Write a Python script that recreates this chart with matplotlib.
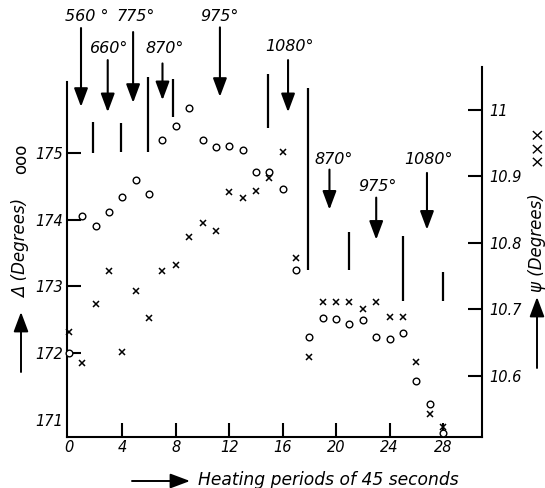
import matplotlib.pyplot as plt

# heating periods (45 s each)
periods = list(range(29))

# ellipsometer angle Delta (left scale), circles
delta = [172.0, 174.06, 173.9, 174.12, 174.34, 174.6, 174.39, 175.19, 175.4, 175.67,
         175.2, 175.09, 175.1, 175.04, 174.72, 174.72, 174.46, 173.24, 172.25, 172.52,
         172.51, 172.43, 172.49, 172.25, 172.22, 172.3, 171.58, 171.24, 170.81]

# ellipsometer angle psi (right scale), crosses
psi = [10.666, 10.62, 10.708, 10.758, 10.636, 10.728, 10.687, 10.758, 10.767, 10.809,
       10.829, 10.818, 10.877, 10.868, 10.878, 10.898, 10.937, 10.777, 10.629, 10.711,
       10.711, 10.711, 10.70, 10.711, 10.689, 10.689, 10.621, 10.543, 10.523]

# vertical bars between heating stages: x, lower and upper Delta
bar_x = [1.8, 3.9, 5.9, 7.8, 14.9, 17.9, 21.0, 25.0, 28.0]
bar_lo = [175.0, 175.01, 175.01, 175.54, 175.37, 173.24, 173.24, 172.78, 172.78]
bar_hi = [175.46, 175.45, 176.13, 176.1, 176.18, 175.97, 173.81, 173.75, 173.21]

# furnace temperatures with arrow position, label height, arrow tail/head
temps = ['560 °', '660°', '775°', '870°', '975°', '1080°', '870°', '975°', '1080°']
arrow_x = [0.9, 2.9, 4.8, 7.0, 11.3, 16.4, 19.5, 23.0, 26.8]
text_x = [1.35, 3.0, 5.0, 7.15, 11.27, 16.5, 19.8, 23.1, 26.9]
text_y = [177.05, 176.57, 177.05, 176.57, 177.05, 176.59, 174.9, 174.49, 174.9]
tail_y = [176.87, 176.39, 176.81, 176.34, 176.88, 176.39, 174.75, 174.33, 174.7]
head_y = [175.69, 175.61, 175.75, 175.79, 175.84, 175.61, 174.15, 173.7, 173.85]

xticks = [0, 4, 8, 12, 16, 20, 24, 28]
dticks = [171, 172, 173, 174, 175]
pticks = [10.6, 10.7, 10.8, 10.9, 11.0]
plabels = ['10.6', '10.7', '10.8', '10.9', '11']

plt.rcParams['font.family'] = 'DejaVu Sans'
plt.rcParams['font.style'] = 'italic'

fig = plt.figure(figsize=(5.45, 4.88), dpi=100)
ax = fig.add_axes([0.1229, 0.1045, 0.7615, 0.8955])
ax2 = ax.twinx()

ax.set_xlim(-0.15, 30.92)
ax.set_ylim(170.745, 177.29)
ax2.set_ylim(10.508, 11.165)

ax.plot(periods, delta, 'o', ms=4.8, mfc='white', mec='black', mew=1.0, clip_on=False, zorder=3)
ax2.plot(periods, psi, 'x', ms=4.2, color='black', mew=1.1, clip_on=False, zorder=3)

ax.vlines(bar_x, bar_lo, bar_hi, color='black', lw=1.6)

for t, ax_, tx, ty, y0, y1 in zip(temps, arrow_x, text_x, text_y, tail_y, head_y):
    ax.annotate('', xy=(ax_, y1), xytext=(ax_, y0),
                arrowprops=dict(arrowstyle='-|>,head_length=0.75,head_width=0.28',
                                color='black', lw=1.5, mutation_scale=15, shrinkA=0, shrinkB=0),
                annotation_clip=False)
    ax.text(tx, ty, t, ha='center', va='center', fontsize=11.5, clip_on=False)

# axes frame
ax.spines['top'].set_visible(False)
ax.spines['right'].set_visible(False)
ax.spines['left'].set_bounds(170.745, 176.06)
for s in ['top', 'left', 'bottom']:
    ax2.spines[s].set_visible(False)
ax2.spines['right'].set_bounds(10.508, 11.065)
for sp in [ax.spines['left'], ax.spines['bottom'], ax2.spines['right']]:
    sp.set_linewidth(1.5)

ax.set_xticks(xticks)
ax.set_xticklabels([str(v) for v in xticks])
ax.set_yticks(dticks)
ax.set_yticklabels([str(v) for v in dticks])
ax2.set_yticks(pticks)
ax2.set_yticklabels(plabels)
ax.tick_params(axis='both', direction='in', length=10, width=1.5, labelsize=10.5, pad=3)
ax.tick_params(axis='x', pad=2)
ax2.tick_params(axis='y', direction='in', length=10, width=1.5, labelsize=10.5, pad=5)
# the 171 and 0 labels stand alone, without tick marks
ax.yaxis.get_major_ticks()[0].tick1line.set_visible(False)
ax.xaxis.get_major_ticks()[0].tick1line.set_visible(False)

# side and bottom captions with pointer arrows
arrow_kw = dict(arrowstyle='-|>,head_length=0.8,head_width=0.3', color='black',
                lw=1.4, mutation_scale=15, shrinkA=0, shrinkB=0)
fig.text(21, 488 - 248, 'Δ (Degrees)', transform=None, rotation=90,
         ha='center', va='center', fontsize=12)
fig.text(21, 488 - 159, 'ooo', transform=None, rotation=90,
         ha='center', va='center', fontsize=12, style='normal')
ax.annotate('', xy=(21, 488 - 312), xytext=(21, 488 - 372),
            xycoords='figure pixels', textcoords='figure pixels', arrowprops=arrow_kw)

fig.text(537, 488 - 243, 'ψ (Degrees)', transform=None, rotation=90,
         ha='center', va='center', fontsize=12)
fig.text(537, 488 - 145, '×××', transform=None, rotation=90,
         ha='center', va='center', fontsize=12, style='normal')
ax.annotate('', xy=(537, 488 - 297), xytext=(537, 488 - 368),
            xycoords='figure pixels', textcoords='figure pixels', arrowprops=arrow_kw)

fig.text(328, 488 - 480, 'Heating periods of 45 seconds', transform=None,
         ha='center', va='center', fontsize=12.3)
ax.annotate('', xy=(190, 488 - 481), xytext=(132, 488 - 481),
            xycoords='figure pixels', textcoords='figure pixels', arrowprops=arrow_kw)

fig.savefig('out.png', dpi=100)
